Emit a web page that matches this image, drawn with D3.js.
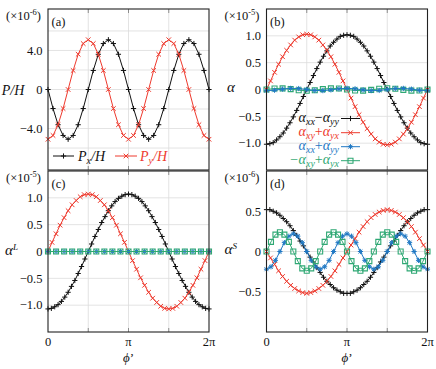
<!DOCTYPE html>
<html><head><meta charset="utf-8">
<script src="https://cdn.jsdelivr.net/npm/d3@7"></script>
<style>
body{margin:0;background:#fff}
text{font-family:"Liberation Serif","DejaVu Serif",serif;fill:#111}
</style>
</head><body>
<svg id="chart" width="436" height="369"></svg>
<script>
// ---------------- data ----------------
// x positions: samples are evenly spaced in phi' from 0 to 2*pi
const xTickValues = [0, Math.PI/2, Math.PI, 3*Math.PI/2, 2*Math.PI];
const xTickLabels = ["0", "π", "2π"];           // shown at 0, pi, 2pi

// (a) P/H  (x10^-6), 33 samples
const aPx = [0,-1.95,-3.61,-4.71,-5.1,-4.71,-3.61,-1.95,0,1.95,3.61,4.71,5.1,4.71,3.61,1.95,0,-1.95,-3.61,-4.71,-5.1,-4.71,-3.61,-1.95,0,1.95,3.61,4.71,5.1,4.71,3.61,1.95,0];
const aPy = [-5.1,-4.71,-3.61,-1.95,0,1.95,3.61,4.71,5.1,4.71,3.61,1.95,0,-1.95,-3.61,-4.71,-5.1,-4.71,-3.61,-1.95,0,1.95,3.61,4.71,5.1,4.71,3.61,1.95,0,-1.95,-3.61,-4.71,-5.1];
const aGrid = [-6,-4,-2,0,2,4,6];
const aTicks = [-4,0,4];
const aTickLabels = ["−4.0","0","4.0"];

// (b) alpha (x10^-5)
const bXXmYY = [-1.02,-1.01,-0.99,-0.94,-0.88,-0.81,-0.72,-0.62,-0.51,-0.39,-0.26,-0.13,0,0.13,0.26,0.39,0.51,0.62,0.72,0.81,0.88,0.94,0.99,1.01,1.02,1.01,0.99,0.94,0.88,0.81,0.72,0.62,0.51,0.39,0.26,0.13,0,-0.13,-0.26,-0.39,-0.51,-0.62,-0.72,-0.81,-0.88,-0.94,-0.99,-1.01,-1.02];
const bXYpYX = [0,0.16,0.32,0.47,0.61,0.73,0.83,0.92,0.98,1.02,1.03,1.02,0.98,0.92,0.83,0.73,0.61,0.47,0.32,0.16,0,-0.16,-0.32,-0.47,-0.61,-0.73,-0.83,-0.92,-0.98,-1.02,-1.03,-1.02,-0.98,-0.92,-0.83,-0.73,-0.61,-0.47,-0.32,-0.16,0];
const bXXpYY = [-0.022,-0.013,0.007,0.021,0.018,0,-0.018,-0.021,-0.007,0.013,0.022,0.013,-0.007,-0.021,-0.018,0,0.018,0.021,0.007,-0.013,-0.022];
const bmXYpYX = [0,0.018,0.021,0.007,-0.013,-0.022,-0.013,0.007,0.021,0.018,0,-0.018,-0.021,-0.007,0.013,0.022,0.013,-0.007,-0.021,-0.018,0];
const bGrid = [-1,-0.5,0,0.5,1];
const bTicks = [-1,-0.5,0,0.5,1];
const bTickLabels = ["−1.0","−0.5","0","0.5","1.0"];

// (c) alpha^L (x10^-5)
const cXXmYY = [-1.07,-1.06,-1.03,-0.99,-0.93,-0.85,-0.76,-0.65,-0.54,-0.41,-0.28,-0.14,0,0.14,0.28,0.41,0.54,0.65,0.76,0.85,0.93,0.99,1.03,1.06,1.07,1.06,1.03,0.99,0.93,0.85,0.76,0.65,0.54,0.41,0.28,0.14,0,-0.14,-0.28,-0.41,-0.54,-0.65,-0.76,-0.85,-0.93,-0.99,-1.03,-1.06,-1.07];
const cXYpYX = [0,0.17,0.33,0.49,0.63,0.76,0.87,0.95,1.02,1.06,1.07,1.06,1.02,0.95,0.87,0.76,0.63,0.49,0.33,0.17,0,-0.17,-0.33,-0.49,-0.63,-0.76,-0.87,-0.95,-1.02,-1.06,-1.07,-1.06,-1.02,-0.95,-0.87,-0.76,-0.63,-0.49,-0.33,-0.17,0];
const cXXpYY = [0,0,0,0,0,0,0,0,0,0,0,0,0,0,0,0,0,0,0,0,0];
const cmXYpYX = [0,0,0,0,0,0,0,0,0,0,0,0,0,0,0,0,0,0,0,0,0];
const cGrid = [-1,-0.5,0,0.5,1];
const cTicks = [-1,-0.5,0,0.5,1];
const cTickLabels = ["−1.0","−0.5","0","0.5","1.0"];

// (d) alpha^S (x10^-6)
const dXXmYY = [0.52,0.52,0.50,0.48,0.45,0.41,0.37,0.32,0.26,0.20,0.13,0.07,0,-0.07,-0.13,-0.20,-0.26,-0.32,-0.37,-0.41,-0.45,-0.48,-0.50,-0.52,-0.52,-0.52,-0.50,-0.48,-0.45,-0.41,-0.37,-0.32,-0.26,-0.20,-0.13,-0.07,0,0.07,0.13,0.20,0.26,0.32,0.37,0.41,0.45,0.48,0.50,0.52,0.52];
const dXYpYX = [0,-0.08,-0.16,-0.24,-0.31,-0.37,-0.42,-0.46,-0.49,-0.51,-0.52,-0.51,-0.49,-0.46,-0.42,-0.37,-0.31,-0.24,-0.16,-0.08,0,0.08,0.16,0.24,0.31,0.37,0.42,0.46,0.49,0.51,0.52,0.51,0.49,0.46,0.42,0.37,0.31,0.24,0.16,0.08,0];
const dXXpYY = [-0.22,-0.19,-0.11,0,0.11,0.19,0.22,0.19,0.11,0,-0.11,-0.19,-0.22,-0.19,-0.11,0,0.11,0.19,0.22,0.19,0.11,0,-0.11,-0.19,-0.22,-0.19,-0.11,0,0.11,0.19,0.22,0.19,0.11,0,-0.11,-0.19,-0.22];
const dmXYpYX = [0,0.12,0.21,0.24,0.21,0.12,0,-0.12,-0.21,-0.24,-0.21,-0.12,0,0.12,0.21,0.24,0.21,0.12,0,-0.12,-0.21,-0.24,-0.21,-0.12,0,0.12,0.21,0.24,0.21,0.12,0,-0.12,-0.21,-0.24,-0.21,-0.12,0];
const dGrid = [-0.5,0,0.5];
const dTicks = [-0.5,0,0.5];
const dTickLabels = ["−0.5","0","0.5"];

// ---------------- styling ----------------
const C = {black:"#111111", red:"#ee3a2e", blue:"#1f78c4", green:"#2fa874"};
const svg = d3.select("#chart");

function markerPath(type, s) {
  const plus = `M${-s},0H${s}M0,${-s}V${s}`;
  const cross = `M${-s},${-s}L${s},${s}M${-s},${s}L${s},${-s}`;
  if (type === "plus") return plus;
  if (type === "cross") return cross;
  if (type === "star") return plus + `M${-s*0.75},${-s*0.75}L${s*0.75},${s*0.75}M${-s*0.75},${s*0.75}L${s*0.75},${-s*0.75}`;
  if (type === "square") return `M${-s},${-s}H${s}V${s}H${-s}Z`;
}

function drawMarker(g, type, color, x, y) {
  const s = type === "square" ? 2.5 : (type === "cross" ? 2.3 : 2.6);
  g.append("path").attr("transform", `translate(${x},${y})`)
    .attr("d", markerPath(type, s))
    .attr("fill", "none").attr("stroke", color)
    .attr("stroke-width", type === "square" ? 1.1 : 1);
}

function drawSeries(g, xs, ys, vals, color, type) {
  const n = vals.length;
  const pts = vals.map((v, i) => [i * 2 * Math.PI / (n - 1), v]);
  const line = d3.line().x(d => xs(d[0])).y(d => ys(d[1]));
  g.append("path").datum(pts).attr("d", line)
    .attr("fill", "none").attr("stroke", color).attr("stroke-width", 1);
  const mg = g.append("g");
  pts.forEach(d => drawMarker(mg, type, color, xs(d[0]), ys(d[1])));
}

function expLabel(x, y, exp) {
  const t = svg.append("text").attr("x", x).attr("y", y).attr("font-size", 12.5);
  t.append("tspan").text("(×10");
  t.append("tspan").attr("dy", -5).attr("font-size", 8.5).text(exp);
  t.append("tspan").attr("dy", 5).text(")");
}

const panels = [
  {x0:48, x1:209, y0:9, y1:170, dom:[-8.25,8.25], grid:aGrid, ticks:aTicks, labels:aTickLabels,
   exp:"-6", tag:"(a)", series:[[aPx,C.black,"plus"],[aPy,C.red,"cross"]], bottom:false},
  {x0:266.5, x1:427.5, y0:9, y1:170, dom:[-1.5,1.5], grid:bGrid, ticks:bTicks, labels:bTickLabels,
   exp:"-5", tag:"(b)", series:[[bXXmYY,C.black,"plus"],[bXYpYX,C.red,"cross"],[bmXYpYX,C.green,"square"],[bXXpYY,C.blue,"star"]], bottom:false},
  {x0:48, x1:209, y0:171, y1:332, dom:[-1.5,1.5], grid:cGrid, ticks:cTicks, labels:cTickLabels,
   exp:"-5", tag:"(c)", series:[[cXXmYY,C.black,"plus"],[cXYpYX,C.red,"cross"],[cXXpYY,C.blue,"star"],[cmXYpYX,C.green,"square"]], bottom:true},
  {x0:266.5, x1:427.5, y0:171, y1:332, dom:[-1,1], grid:dGrid, ticks:dTicks, labels:dTickLabels,
   exp:"-6", tag:"(d)", series:[[dXXmYY,C.black,"plus"],[dXYpYX,C.red,"cross"],[dXXpYY,C.blue,"star"],[dmXYpYX,C.green,"square"]], bottom:true}
];

panels.forEach(p => {
  const xs = d3.scaleLinear().domain([0, 2*Math.PI]).range([p.x0, p.x1]);
  const ys = d3.scaleLinear().domain(p.dom).range([p.y1, p.y0]);
  const g = svg.append("g");
  // grid
  g.selectAll(".gx").data(xTickValues.slice(1, -1)).enter().append("line")
    .attr("x1", d => xs(d)).attr("x2", d => xs(d)).attr("y1", p.y0).attr("y2", p.y1)
    .attr("stroke", "#dcdcdc").attr("stroke-width", 0.8);
  g.selectAll(".gy").data(p.grid).enter().append("line")
    .attr("y1", d => ys(d)).attr("y2", d => ys(d)).attr("x1", p.x0).attr("x2", p.x1)
    .attr("stroke", "#dcdcdc").attr("stroke-width", 0.8);
  // inner ticks
  xTickValues.slice(1, -1).forEach(v => {
    g.append("line").attr("x1", xs(v)).attr("x2", xs(v)).attr("y1", p.y1).attr("y2", p.y1 - 4).attr("stroke", "#777").attr("stroke-width", 0.8);
    g.append("line").attr("x1", xs(v)).attr("x2", xs(v)).attr("y1", p.y0).attr("y2", p.y0 + 4).attr("stroke", "#777").attr("stroke-width", 0.8);
  });
  // y tick labels
  p.ticks.forEach((v, i) => {
    svg.append("text").attr("x", p.x0 - 5.5).attr("y", ys(v) + 4.3)
      .attr("text-anchor", "end").attr("font-size", 12.5).text(p.labels[i]);
  });
  // series
  p.series.forEach(s => drawSeries(g, xs, ys, s[0], s[1], s[2]));
  // frame
  svg.append("rect").attr("x", p.x0).attr("y", p.y0).attr("width", p.x1 - p.x0).attr("height", p.y1 - p.y0)
    .attr("fill", "none").attr("stroke", "#222").attr("stroke-width", 1.1);
  // panel tag and exponent
  svg.append("text").attr("x", p.x0 + 3.5).attr("y", p.y0 + 16.5).attr("font-size", 12.5).text(p.tag);
  expLabel(p.x0 - 42, p.y0 + 10.5, p.exp);
  // x tick labels
  if (p.bottom) {
    [0, Math.PI, 2*Math.PI].forEach((v, i) => {
      svg.append("text").attr("x", xs(v)).attr("y", 346).attr("text-anchor", "middle")
        .attr("font-size", 12.5).text(xTickLabels[i]);
    });
    const xl = svg.append("text").attr("x", xs(Math.PI)).attr("y", 361.5).attr("text-anchor", "middle")
      .attr("font-size", 13);
    xl.append("tspan").attr("font-style", "italic").text("ϕ");
    xl.append("tspan").text("’");
  }
});

// y-axis labels
{
  svg.append("text").attr("x", 13).attr("y", 94.5).attr("text-anchor", "middle").attr("font-size", 14).attr("font-style", "italic").text("P/H");
  svg.append("text").attr("x", 231).attr("y", 92).attr("text-anchor", "middle").attr("font-size", 15).attr("font-style", "italic").text("α");
  const tl = svg.append("text").attr("x", 5).attr("y", 255).attr("font-size", 15).attr("font-style", "italic");
  tl.append("tspan").text("α");
  tl.append("tspan").attr("dy", -5).attr("font-size", 9).text("L");
  const ts = svg.append("text").attr("x", 224.5).attr("y", 254).attr("font-size", 15).attr("font-style", "italic");
  ts.append("tspan").text("α");
  ts.append("tspan").attr("dy", -5).attr("font-size", 9).text("S");
}

function subText(x, y, parts, color, anchor) {
  const t = svg.append("text").attr("x", x).attr("y", y).attr("font-size", 14)
    .attr("text-anchor", anchor || "start").style("fill", color);
  parts.forEach(pt => {
    const sp = t.append("tspan").text(pt.t);
    if (pt.it) sp.attr("font-style", "italic");
    if (pt.sub) sp.attr("font-size", 10).attr("dy", 3);
    if (pt.up) sp.attr("dy", -3);
  });
  return t;
}
// legend (a)
{
  const y = 156;
  svg.append("line").attr("x1", 53).attr("x2", 74).attr("y1", y).attr("y2", y).attr("stroke", C.black);
  drawMarker(svg, "plus", C.black, 63.5, y);
  subText(78, y + 5, [{t:"P",it:1},{t:"x",it:1,sub:1},{t:"/H",it:1,up:1}], C.black);
  svg.append("line").attr("x1", 115).attr("x2", 137).attr("y1", y).attr("y2", y).attr("stroke", C.red);
  drawMarker(svg, "cross", C.red, 126, y);
  subText(140, y + 5, [{t:"P",it:1},{t:"y",it:1,sub:1},{t:"/H",it:1,up:1}], C.red);
}
// legend (b)
{
  const rows = [
    {y:118.5, c:C.black, m:"plus", parts:[{t:"α",it:1},{t:"xx",it:1,sub:1},{t:"−",up:1},{t:"α",it:1},{t:"yy",it:1,sub:1}]},
    {y:132.7, c:C.red, m:"cross", parts:[{t:"α",it:1},{t:"xy",it:1,sub:1},{t:"+",up:1},{t:"α",it:1},{t:"yx",it:1,sub:1}]},
    {y:146.7, c:C.blue, m:"star", parts:[{t:"α",it:1},{t:"xx",it:1,sub:1},{t:"+",up:1},{t:"α",it:1},{t:"yy",it:1,sub:1}]},
    {y:160.7, c:C.green, m:"square", parts:[{t:"−α",it:1},{t:"xy",it:1,sub:1},{t:"+",up:1},{t:"α",it:1},{t:"yx",it:1,sub:1}]}
  ];
  rows.forEach(r => {
    subText(339, r.y + 3.5, r.parts, r.c, "end");
    svg.append("line").attr("x1", 341).attr("x2", 360).attr("y1", r.y).attr("y2", r.y).attr("stroke", r.c);
    drawMarker(svg, r.m, r.c, 350.5, r.y);
  });
}
</script>
</body></html>
